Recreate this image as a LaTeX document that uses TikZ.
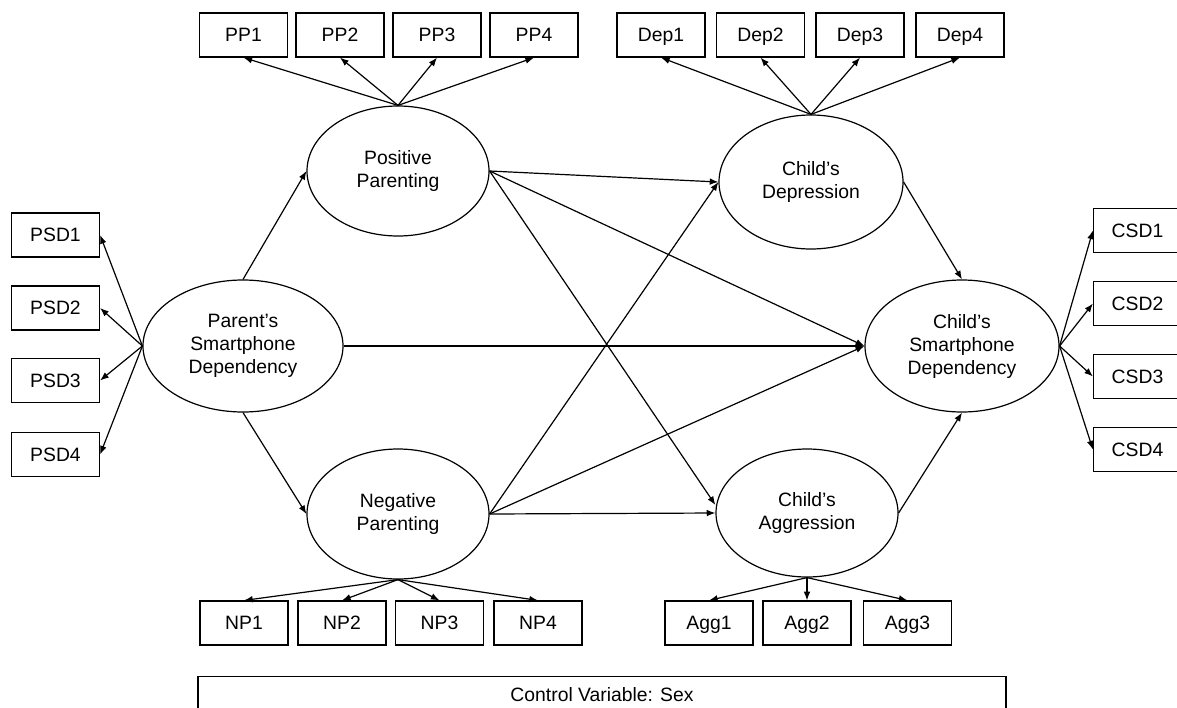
\documentclass[tikz,border=0pt]{standalone}
\usepackage{fontspec}
\setmainfont{Liberation Sans}
\usetikzlibrary{shapes.geometric,arrows.meta}
\begin{document}
\begin{tikzpicture}[x=0.75pt,y=-0.75pt,
  txt/.style={font=\fontsize{14.5}{17.25}\selectfont},
  box/.style={draw, line width=0.9pt, minimum width=66pt, minimum height=33pt, inner sep=0pt, text height=10.4pt, text depth=0pt, txt},
  lat/.style={draw, ellipse, line width=0.9pt, inner sep=0pt, align=center, txt},
  arr/.style={-{Latex[length=6.5pt,width=5pt]}, line width=0.9pt}
]
\useasboundingbox (0,0) rectangle (1177,707);
\fill[white] (0,0) rectangle (1177,707);
\clip (0,0) rectangle (1177,707);

% latent variables
\node[lat, minimum width=150pt, minimum height=99pt] (par) at (243,346) {Parent's\\Smartphone\\Dependency};
\node[lat, minimum width=136.5pt, minimum height=97.5pt] (pos) at (398,171) {Positive\\Parenting};
\node[lat, minimum width=136.5pt, minimum height=97.5pt] (neg) at (398,514) {Negative\\Parenting};
\node[lat, minimum width=138pt, minimum height=100.5pt] (dep) at (811,182) {Child's\\Depression};
\node[lat, minimum width=136.5pt, minimum height=96pt] (agg) at (807,513) {Child's\\Aggression};
\node[lat, minimum width=145.5pt, minimum height=99pt] (csd) at (962,346) {Child's\\Smartphone\\Dependency};

% indicators
\node[box] (pp1) at (243.5,35) {PP1};
\node[box] (pp2) at (340,35) {PP2};
\node[box] (pp3) at (437,35) {PP3};
\node[box] (pp4) at (534,35) {PP4};
\node[box] (dep1) at (661,35) {Dep1};
\node[box] (dep2) at (760.5,35) {Dep2};
\node[box] (dep3) at (860,35) {Dep3};
\node[box] (dep4) at (960,35) {Dep4};
\node[box] (psd1) at (55.5,235) {PSD1};
\node[box] (psd2) at (55.5,308) {PSD2};
\node[box] (psd3) at (55.5,380.5) {PSD3};
\node[box] (psd4) at (55.5,454.5) {PSD4};
\node[box] (csd1) at (1137.5,230.5) {CSD1};
\node[box] (csd2) at (1137.5,303.5) {CSD2};
\node[box] (csd3) at (1137.5,376.5) {CSD3};
\node[box] (csd4) at (1137.5,449.5) {CSD4};
\node[box] (np1) at (244,623) {NP1};
\node[box] (np2) at (342,623) {NP2};
\node[box] (np3) at (439.5,623) {NP3};
\node[box] (np4) at (538,623) {NP4};
\node[box] (agg1) at (709,623) {Agg1};
\node[box] (agg2) at (807,623) {Agg2};
\node[box] (agg3) at (907.5,623) {Agg3};

\node[draw, line width=0.9pt, txt, anchor=north, minimum width=606pt, inner ysep=8.5pt] (ctrl) at (602,676) {Control Variable: Sex};

% measurement arrows
\foreach \i in {1,...,4} {
  \draw[arr] (pos.north) -- (pp\i.south);
  \draw[arr] (dep.north) -- (dep\i.south);
  \draw[arr] (par.west) -- (psd\i.east);
  \draw[arr] (csd.east) -- (csd\i.west);
  \draw[arr] (neg.south) -- (np\i.north);
}
\foreach \i in {1,...,3} {
  \draw[arr] (agg.south) -- (agg\i.north);
}

% structural arrows
\draw[arr] (par.north) -- (pos.west);
\draw[arr] (par.south) -- (neg.west);
\draw[arr] (par.east) -- (csd.west);
\draw[arr] (pos.east) -- (dep.west);
\draw[arr] (pos.east) -- (csd.west);
\draw[arr] (pos.east) -- ([yshift=6pt]agg.west);
\draw[arr] (neg.east) -- (dep.west);
\draw[arr] (neg.east) -- (csd.west);
\draw[arr] (neg.east) -- (agg.west);
\draw[arr] (dep.east) -- (csd.north);
\draw[arr] (agg.east) -- (csd.south);
\end{tikzpicture}
\end{document}
